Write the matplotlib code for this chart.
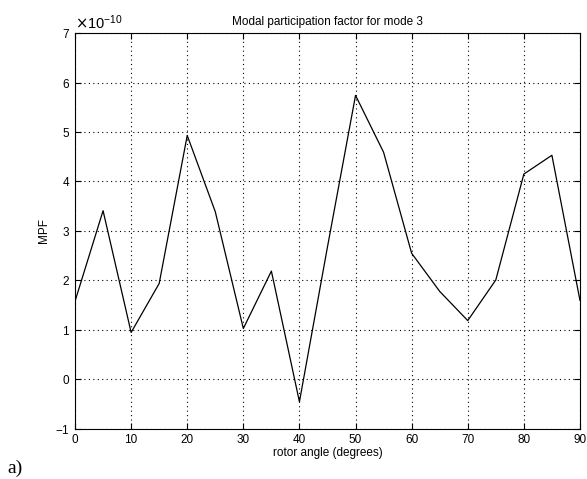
import numpy as np
import matplotlib
matplotlib.use("Agg")
import matplotlib.pyplot as plt

angle = [0, 5, 10, 15, 20, 25, 30, 35, 40, 45, 50, 55, 60, 65, 70, 75, 80, 85, 90]
mpf = [1.58, 3.41, 0.95, 1.94, 4.93, 3.39, 1.03, 2.19, -0.45, 2.68, 5.74, 4.59, 2.55, 1.78, 1.19, 2.01, 4.15, 4.53, 1.60]
mpf = np.array(mpf) * 1e-10

plt.rcParams['font.family'] = 'Liberation Sans'
plt.rcParams['font.size'] = 8
plt.rcParams['axes.unicode_minus'] = False

fig = plt.figure(figsize=(5.87, 4.79), dpi=100)
ax = fig.add_axes([0.1278, 0.1044, 0.8602, 0.8267])
ax.plot(angle, mpf, color='black', linewidth=0.9)
ax.set_xlim(0, 90)
ax.set_ylim(-1e-10, 7e-10)
ax.set_xticks(range(0, 91, 10))
ax.set_yticks(np.arange(-1, 8) * 1e-10)
ax.ticklabel_format(axis='y', style='sci', scilimits=(0, 0), useMathText=True)
ax.yaxis.get_offset_text().set_x(0.0)
ax.yaxis.get_offset_text().set_fontsize(10.5)
ax.tick_params(direction='in', top=True, right=True, length=4, labelsize=8.5)
ax.grid(True, color='black', linestyle=(0, (1, 3)), linewidth=0.8)
for s in ax.spines.values():
    s.set_linewidth(0.8)
ax.set_title('Modal participation factor for mode 3', fontsize=8.5)
ax.set_xlabel('rotor angle (degrees)', fontsize=8.5, labelpad=1)
ax.set_ylabel('MPF', fontsize=8.5)
fig.text(0.012, 0.012, 'a)', family='Liberation Serif', fontsize=14)

fig.savefig('out.png', dpi=100)
